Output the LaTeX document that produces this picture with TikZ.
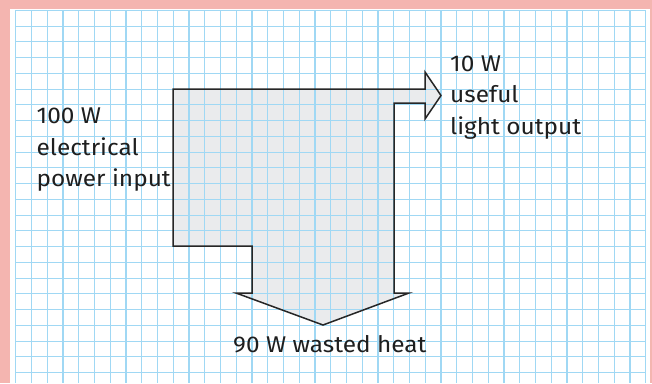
\documentclass[tikz,border=0pt]{standalone}
\usepackage{fontspec}
\setmainfont[FakeStretch=1.07]{Fira Sans}
\definecolor{pinkbg}{RGB}{244,181,176}
\definecolor{gridblue}{RGB}{160,216,244}
\definecolor{shapefill}{RGB}{234,235,237}
\definecolor{outline}{RGB}{38,38,38}
\definecolor{textc}{RGB}{30,30,30}
\tikzset{
  gridline/.style={draw=gridblue, line width=1.1pt},
  flowshape/.style={draw=outline, line width=1.5pt, line join=miter},
  lbl/.style={anchor=base west, inner sep=0pt, text=textc, font=\fontsize{22.8}{27}\selectfont}
}
\begin{document}
\begin{tikzpicture}[x=1pt,y=-1pt]
\useasboundingbox (0,0) rectangle (652,383);
\fill[pinkbg] (0,0) rectangle (652,383);
\fill[white] (10,9) rectangle (650,383);
% shape fill
\fill[shapefill] (173,89) -- (425,89) -- (425,72) -- (441,95.5) -- (425,119) -- (425,103) -- (394,103) -- (394,293) -- (409,293) -- (323,325) -- (236,293) -- (252,293) -- (252,246) -- (173,246) -- cycle;
% grid
\foreach \k in {0,...,40} {
  \draw[gridline] ({15.7+15.75*\k},10.3) -- ({15.7+15.75*\k},383);
}
\foreach \k in {0,...,23} {
  \draw[gridline] (15.7,{10.3+15.75*\k}) -- (645.7,{10.3+15.75*\k});
}
% shape outline
\draw[flowshape] (173,89) -- (425,89) -- (425,72) -- (441,95.5) -- (425,119) -- (425,103) -- (394,103) -- (394,293) -- (409,293) -- (323,325) -- (236,293) -- (252,293) -- (252,246) -- (173,246) -- cycle;
% labels
\node[lbl] (in1) at (36.5,123.5) {100 W};
\node[lbl] (in2) at (36.5,155) {electrical};
\node[lbl] (in3) at (36.5,186.5) {power input};
\node[lbl] (out1) at (450,71) {10 W};
\node[lbl] (out2) at (450,102.5) {useful};
\node[lbl] (out3) at (450,134) {light output};
\node[lbl] (heat) at (233,352.7) {90 W wasted heat};
\end{tikzpicture}
\end{document}
